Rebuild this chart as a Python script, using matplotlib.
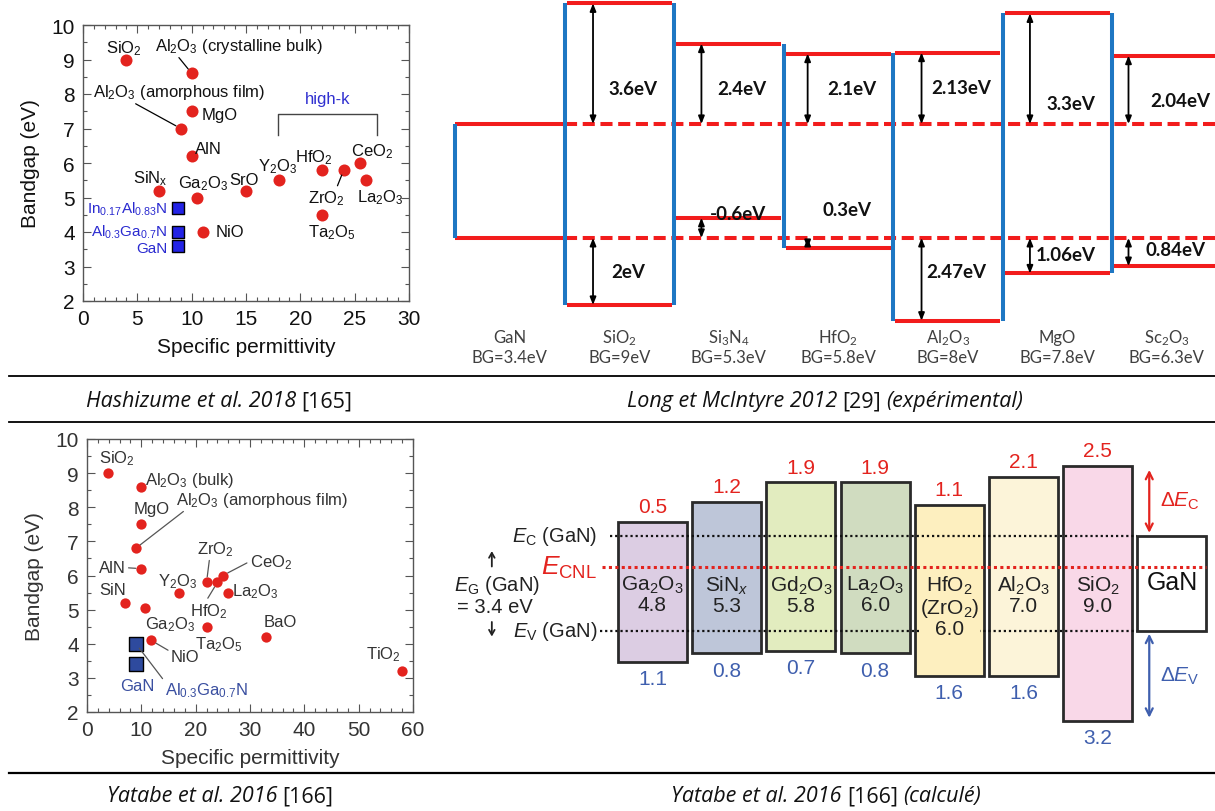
import matplotlib
matplotlib.use('Agg')
import matplotlib.pyplot as plt
from matplotlib.lines import Line2D
from matplotlib.patches import Rectangle
from matplotlib.ticker import MultipleLocator

W, H = 1215, 812

plt.rcParams['font.family'] = 'Liberation Sans'
plt.rcParams['mathtext.fontset'] = 'custom'
plt.rcParams['mathtext.default'] = 'regular'
plt.rcParams['mathtext.it'] = 'Liberation Sans:italic'
plt.rcParams['mathtext.rm'] = 'Liberation Sans'

# ---------------- data ----------------
# Hashizume et al. 2018 (top left)
h_names = ['SiO$_2$', 'Al$_2$O$_3$ (crystalline bulk)', 'Al$_2$O$_3$ (amorphous film)',
           'MgO', 'AlN', 'SiN$_x$', 'Ga$_2$O$_3$', 'NiO', 'SrO', 'Y$_2$O$_3$',
           'HfO$_2$', 'ZrO$_2$', 'CeO$_2$', 'La$_2$O$_3$', 'Ta$_2$O$_5$']
h_eps = [4, 10, 9, 10, 10, 7, 10.5, 11, 15, 18, 22, 24, 25.5, 26, 22]
h_gap = [9.0, 8.6, 7.0, 7.5, 6.2, 5.2, 5.0, 4.0, 5.2, 5.5, 5.8, 5.8, 6.0, 5.5, 4.5]
h_semi = ['In$_{0.17}$Al$_{0.83}$N', 'Al$_{0.3}$Ga$_{0.7}$N', 'GaN']
h_semi_eps = [8.7, 8.7, 8.7]
h_semi_gap = [4.7, 4.0, 3.6]

# Yatabe et al. 2016 (bottom left)
y_names = ['SiO$_2$', 'Al$_2$O$_3$ (bulk)', 'MgO', 'Al$_2$O$_3$ (amorphous film)', 'AlN',
           'SiN', 'Ga$_2$O$_3$', 'NiO', 'Y$_2$O$_3$', 'ZrO$_2$', 'HfO$_2$', 'CeO$_2$',
           'La$_2$O$_3$', 'Ta$_2$O$_5$', 'BaO', 'TiO$_2$']
y_eps = [3.9, 10, 10, 9, 10, 7, 10.7, 11.8, 17, 22, 24, 25, 26, 22, 33, 58]
y_gap = [9.0, 8.6, 7.5, 6.8, 6.2, 5.2, 5.05, 4.1, 5.5, 5.8, 5.8, 6.0, 5.5, 4.5, 4.2, 3.2]
y_semi = ['Al$_{0.3}$Ga$_{0.7}$N', 'GaN']
y_semi_eps = [9, 9]
y_semi_gap = [4.0, 3.4]

# Long et McIntyre 2012 (top right), offsets relative to GaN bands
l_names = ['GaN', 'SiO$_2$', 'Si$_3$N$_4$', 'HfO$_2$', 'Al$_2$O$_3$', 'MgO', 'Sc$_2$O$_3$']
l_bg = [3.4, 9, 5.3, 5.8, 8, 7.8, 6.3]
l_cbo = [3.6, 2.4, 2.1, 2.13, 3.3, 2.04]
l_vbo = [2, -0.6, 0.3, 2.47, 1.06, 0.84]
gan_gap = 3.4

# Yatabe et al. 2016 calculated (bottom right)
c_names = ['Ga$_2$O$_3$', 'SiN$_{\\mathit{x}}$', 'Gd$_2$O$_3$', 'La$_2$O$_3$',
           'HfO$_2$\n(ZrO$_2$)', 'Al$_2$O$_3$', 'SiO$_2$']
c_gap = [4.8, 5.3, 5.8, 6.0, 6.0, 7.0, 9.0]
c_cbo = [0.5, 1.2, 1.9, 1.9, 1.1, 2.1, 2.5]
c_vbo = [1.1, 0.8, 0.7, 0.8, 1.6, 1.6, 3.2]
c_cnl = 2.3
c_colors = ['#dccde3', '#bec6d9', '#e2ecbf', '#d0dcc0', '#fdefbf', '#fcf4d9', '#f9d8e8']

RED = '#e3231e'
fig = plt.figure(figsize=(W / 100, H / 100), dpi=100)


def px_axes(left, top, right, bottom):
    return fig.add_axes([left / W, 1 - bottom / H, (right - left) / W, (bottom - top) / H])


def style_scatter(ax, xmax, xmaj, xmin, tcol):
    ax.set_xlim(0, xmax)
    ax.set_ylim(2, 10)
    ax.xaxis.set_major_locator(MultipleLocator(xmaj))
    ax.xaxis.set_minor_locator(MultipleLocator(xmin))
    ax.yaxis.set_major_locator(MultipleLocator(1))
    ax.yaxis.set_minor_locator(MultipleLocator(0.5))
    ax.tick_params(which='both', direction='in', top=True, right=True,
                   labelsize=15, colors='#555', labelcolor=tcol, width=0.8)
    ax.tick_params(which='major', length=6, pad=6)
    ax.tick_params(which='minor', length=3)
    for s in ax.spines.values():
        s.set_color('#555')
        s.set_linewidth(1)
    ax.set_xlabel('Specific permittivity', fontsize=15, color=tcol, labelpad=6)
    ax.set_ylabel('Bandgap (eV)', fontsize=15, color=tcol, labelpad=8)


def put_labels(ax, names, xs, ys, offs, leaders, color, size=12, lcolor='k'):
    for i, name in enumerate(names):
        dx, dy = offs[i]
        kw = {}
        if i in leaders:
            kw['arrowprops'] = dict(arrowstyle='-', lw=0.9, color=lcolor, shrinkA=0,
                                    shrinkB=4, relpos=leaders[i])
        ax.annotate(name, (xs[i], ys[i]), xytext=(dx, dy), textcoords='offset pixels',
                    ha='center', va='center', fontsize=size, color=color, **kw)


# ---------------- top left scatter ----------------
ax1 = px_axes(83, 26, 409, 302)
ax1.scatter(h_eps, h_gap, s=75, c=RED, zorder=3, linewidths=0)
ax1.scatter(h_semi_eps, h_semi_gap, s=70, marker='s', c='#2323e6', edgecolors='k',
            linewidths=1, zorder=3)
style_scatter(ax1, 30, 5, 1, '#111')
h_offs = [(-3, 12), (47, 28), (-2, 37), (28, -3), (17, 8), (-9, 13), (6, 15), (27, 0),
          (-2, 11), (-1, 15), (-8, 13), (-17, -28), (12, 12), (15, -16), (10, -17)]
h_lead = {1: (0.13, 0.0), 2: (0.22, 0.0), 11: (0.76, 1.0)}
put_labels(ax1, h_names, h_eps, h_gap, h_offs, h_lead, '#111')
semi_dy = [0, 1, -2]
for i, name in enumerate(h_semi):
    ax1.annotate(name, (h_semi_eps[i], h_semi_gap[i]), xytext=(-10, semi_dy[i]),
                 textcoords='offset pixels', ha='right', va='center', fontsize=11,
                 color='#2a2ad0')
# high-k bracket
ax1.plot([17.9, 17.9, 27.1, 27.1], [6.8, 7.42, 7.42, 6.8], color='#444', lw=1)
ax1.text(22.5, 7.88, 'high-k', color='#3030d0', fontsize=12, ha='center', va='center')

# ---------------- bottom left scatter ----------------
ax3 = px_axes(87, 440, 413, 713)
ax3.scatter(y_eps, y_gap, s=55, c=RED, zorder=3, linewidths=0)
ax3.scatter(y_semi_eps, y_semi_gap, s=105, marker='s', c='#2e4a9e', edgecolors='k',
            linewidths=1, zorder=3)
style_scatter(ax3, 60, 10, 2, '#333')
y_offs = [(9, 15), (48, 7), (10, 16), (126, 49), (-29, 1), (-12, 13), (25, -16), (34, -16),
          (-2, 12), (9, 34), (-9, -28), (48, 14), (27, 2), (12, -17), (14, 15), (-19, 17)]
y_lead = {3: (0.065, 0.0), 4: (1.0, 0.5), 7: (0.0, 0.8), 9: (0.34, 0.0),
          10: (0.44, 1.0), 11: (0.0, 0.5)}
put_labels(ax3, y_names, y_eps, y_gap, y_offs, y_lead, '#333', lcolor='#555')
put_labels(ax3, y_semi, y_semi_eps, y_semi_gap, [(71, -46), (1, -21)], {0: (0.0, 0.9)},
           '#3a4fa0', lcolor='#555')

# ---------------- top right band diagram ----------------
ax2 = px_axes(420, 0, 1215, 378)
ax2.set_xlim(-0.32, 6.94)
ax2.set_ylim(-4.15, 7.13)
ax2.axis('off')
BLUE = '#1e77c3'
LRED = '#f21c1c'
cb = [gan_gap] + [gan_gap + v for v in l_cbo]
vb = [0] + [-v for v in l_vbo]
ax2.plot([0, 1], [gan_gap, gan_gap], color=LRED, lw=2.9, solid_capstyle='butt')
ax2.plot([0, 1], [0, 0], color=LRED, lw=2.9, solid_capstyle='butt')
ax2.plot([1, 6.94], [gan_gap, gan_gap], color=LRED, lw=2.9, ls=(0, (3, 1.4)), zorder=1)
ax2.plot([1, 6.94], [0, 0], color=LRED, lw=2.9, ls=(0, (3, 1.4)), zorder=1)
for i in range(1, len(l_names)):
    ax2.plot([i + 0.02, i + 0.98], [cb[i], cb[i]], color=LRED, lw=2.9, solid_capstyle='butt')
    ax2.plot([i + 0.02, i + 0.98], [vb[i], vb[i]], color=LRED, lw=2.9, solid_capstyle='butt')
ax2.plot([0, 0], [0, gan_gap], color=BLUE, lw=2.9, solid_capstyle='butt', zorder=2)
for i in range(1, len(l_names)):
    lo = min(vb[i - 1], vb[i])
    hi = max(cb[i - 1], cb[i])
    ax2.plot([i, i], [lo, hi], color=BLUE, lw=2.9, solid_capstyle='butt', zorder=2)

arrow = dict(arrowstyle='<|-|>,head_length=0.45,head_width=0.18', color='k', lw=1.3,
             shrinkA=0, shrinkB=0)
cb_lab_y = [4.45, 4.45, 4.45, 4.5, 4.0, 4.1]
vb_lab_y = [-1.0, 0.72, 0.84, -1.0, -0.5, -0.36]
arrow_x = [0.26, 0.25, 0.22, 0.26, 0.25, 0.15]
for k in range(len(l_cbo)):
    i = k + 1
    ax2.annotate('', xy=(i + arrow_x[k], cb[i]), xytext=(i + arrow_x[k], gan_gap),
                 arrowprops=arrow)
    ax2.annotate('', xy=(i + arrow_x[k], vb[i]), xytext=(i + arrow_x[k], 0),
                 arrowprops=arrow)
    ax2.text(i + 0.62, cb_lab_y[k], f'{l_cbo[k]:g}eV', family='Lato', fontweight='bold',
             fontsize=13.5, ha='center', va='center', color='#111')
    ax2.text(i + 0.58, vb_lab_y[k], f'{l_vbo[k]:g}eV', family='Lato', fontweight='bold',
             fontsize=13.5, ha='center', va='center', color='#111')
for i, name in enumerate(l_names):
    ax2.text(i + 0.5, -2.96, name, family='Lato', fontsize=12, ha='center', va='center',
             color='#404040')
    ax2.text(i + 0.5, -3.55, f'BG={l_bg[i]:g}eV', family='Lato', fontsize=12,
             ha='center', va='center', color='#404040')

# ---------------- bottom right band diagram ----------------
ax4 = px_axes(420, 430, 1215, 770)
ax4.set_xlim(-2.668, 8.046)
ax4.set_ylim(-4.93, 7.21)
ax4.axis('off')
bw = 0.93
BLUE2 = '#3f5fae'
for i, name in enumerate(c_names):
    top = gan_gap + c_cbo[i]
    bot = -c_vbo[i]
    ax4.add_patch(Rectangle((i, bot), bw, top - bot, facecolor=c_colors[i],
                            edgecolor='#2a2a2a', lw=2, zorder=1))
    ax4.text(i + bw / 2, 2.05, f'{name}\n{c_gap[i]:.1f}', ha='center', va='top', fontsize=15,
             color='#222', linespacing=1.0, zorder=4,
             bbox=dict(facecolor=c_colors[i], edgecolor='none', pad=0.5))
    ax4.text(i + bw / 2, top + 0.55, f'{c_cbo[i]:.1f}', ha='center', va='center',
             fontsize=15, color=RED)
    ax4.text(i + bw / 2, bot - 0.6, f'{c_vbo[i]:.1f}', ha='center', va='center',
             fontsize=15, color=BLUE2)
n = len(c_names)
ax4.add_patch(Rectangle((n, 0), bw, gan_gap, facecolor='white', edgecolor='#2a2a2a',
                        lw=2, zorder=1))
ax4.text(n + bw / 2, 1.75, 'GaN', ha='center', va='center', fontsize=18, color='#111')
ax4.plot([-0.11, n], [gan_gap, gan_gap], color='#111', lw=1.6, ls=(0, (1, 1.3)), zorder=3)
ax4.plot([-0.24, n], [0, 0], color='#111', lw=1.6, ls=(0, (1, 1.3)), zorder=3)
ax4.plot([-0.22, n + bw], [c_cnl, c_cnl], color=RED, lw=2.2, ls=(0, (1, 1.1)), zorder=3)
ax4.text(-0.28, gan_gap, r'$\mathit{E}_{\mathrm{C}}$ (GaN)', ha='right', va='center',
         fontsize=14.5, color='#222')
ax4.text(-0.28, 0, r'$\mathit{E}_{\mathrm{V}}$ (GaN)', ha='right', va='center',
         fontsize=14.5, color='#222')
ax4.text(-0.28, c_cnl, r'$\mathit{E}_{\mathrm{CNL}}$', ha='right', va='center',
         fontsize=19, color=RED)
ax4.text(-1.63, 1.64, r'$\mathit{E}_{\mathrm{G}}$ (GaN)', ha='center', va='center',
         fontsize=14.5, color='#222')
ax4.text(-1.66, 0.86, f'= {gan_gap} eV', ha='center', va='center', fontsize=14.5,
         color='#222')
small = dict(arrowstyle='->,head_length=0.35,head_width=0.2', color='#222', lw=1.3,
             shrinkA=0, shrinkB=0)
ax4.annotate('', xy=(-1.70, 2.85), xytext=(-1.70, 2.3), arrowprops=small)
ax4.annotate('', xy=(-1.70, -0.2), xytext=(-1.70, 0.32), arrowprops=small)
ax4.annotate('', xy=(7.16, gan_gap + max(c_cbo) - 0.15), xytext=(7.16, gan_gap + 0.1),
             arrowprops=dict(arrowstyle='<->,head_length=0.5,head_width=0.25', color=RED,
                             lw=1.6, shrinkA=0, shrinkB=0))
ax4.annotate('', xy=(7.16, -max(c_vbo) + 0.1), xytext=(7.16, -0.1),
             arrowprops=dict(arrowstyle='<->,head_length=0.5,head_width=0.25', color=BLUE2,
                             lw=1.6, shrinkA=0, shrinkB=0))
ax4.text(7.31, gan_gap + max(c_cbo) / 2, r'Δ$\mathit{E}_{\mathrm{C}}$', ha='left',
         va='center', fontsize=15, color=RED)
ax4.text(7.31, -max(c_vbo) / 2, r'Δ$\mathit{E}_{\mathrm{V}}$', ha='left',
         va='center', fontsize=15, color=BLUE2)

# ---------------- rules and captions ----------------
for yy, lw in [(377, 1.3), (423, 1.3), (774, 1.6)]:
    fig.add_artist(Line2D([9 / W, 1], [1 - yy / H, 1 - yy / H], color='k', lw=lw,
                          transform=fig.transFigure))


def caption(xc, yc, parts, size):
    r = fig.canvas.get_renderer()
    arts = [fig.text(0, 1 - yc / H, s, fontstyle=st, family='Open Sans', fontsize=size,
                     va='center', color='#111') for s, st in parts]
    ws = [a.get_window_extent(r).width for a in arts]
    gap = size * 0.35
    x = xc - (sum(ws) + gap * (len(ws) - 1)) / 2
    for a, w in zip(arts, ws):
        a.set_x(x / W)
        x += w + gap


cap_size = 15.5
caption(219, 402, [('Hashizume et al. 2018', 'italic'), ('[165]', 'normal')], cap_size)
caption(825, 402, [('Long et McIntyre 2012', 'italic'), ('[29]', 'normal'),
                   ('(expérimental)', 'italic')], cap_size)
caption(220, 797, [('Yatabe et al. 2016', 'italic'), ('[166]', 'normal')], cap_size)
caption(826, 797, [('Yatabe et al. 2016', 'italic'), ('[166]', 'normal'),
                   ('(calculé)', 'italic')], cap_size)

fig.savefig('out.png', dpi=100)
